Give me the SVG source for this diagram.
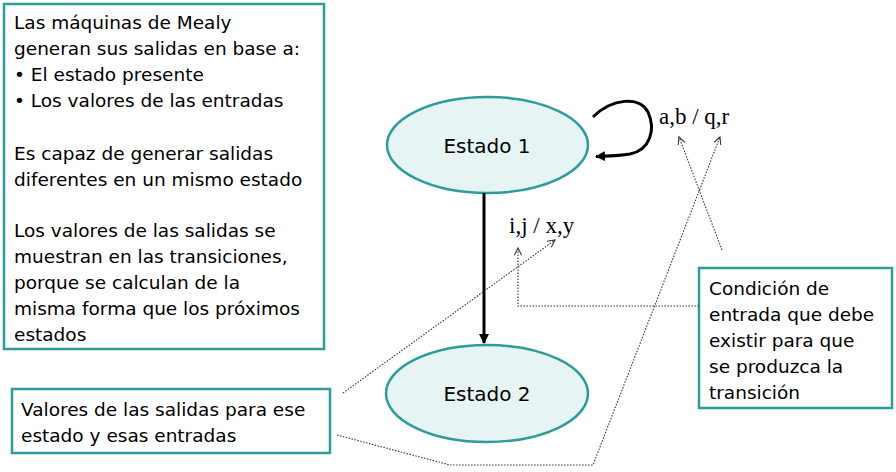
<svg xmlns="http://www.w3.org/2000/svg" width="896" height="472" viewBox="0 0 896 472">
<style>
.box{fill:#fff;stroke:#2e9c98;stroke-width:2.5}
.st{fill:#e6f4f4;stroke:#2e9c98;stroke-width:2.5}
.t{font-family:"DejaVu Sans",Verdana,sans-serif;font-size:18.5px;fill:#000}
.ts{font-family:"DejaVu Sans",Verdana,sans-serif;font-size:20px;fill:#000;text-anchor:middle}
.lbl{font-family:"Liberation Serif","Times New Roman",serif;font-size:23px;fill:#000}
.dot{fill:none;stroke:#333;stroke-width:1.1;stroke-dasharray:1.5 1.5}
.solid{fill:none;stroke:#000;stroke-width:3}
</style>
<defs>
<marker id="ah" viewBox="0 0 10 10" refX="9" refY="5" markerWidth="10" markerHeight="10" markerUnits="userSpaceOnUse" orient="auto">
<path d="M0,0 L10,5 L0,10 Z" fill="#000"/>
</marker>
<marker id="oh" viewBox="0 0 10 10" refX="9" refY="5" markerWidth="9" markerHeight="9" markerUnits="userSpaceOnUse" orient="auto">
<path d="M1,1 L9,5 L1,9" fill="none" stroke="#333" stroke-width="1.2"/>
</marker>
</defs>
<g id="info">
<rect class="box" x="4" y="4" width="320" height="345"/>
<text class="t" x="14" y="29">Las máquinas de Mealy</text>
<text class="t" x="14" y="55">generan sus salidas en base a:</text>
<text class="t" x="14" y="81">• El estado presente</text>
<text class="t" x="14" y="107">• Los valores de las entradas</text>
<text class="t" x="14" y="160">Es capaz de generar salidas</text>
<text class="t" x="14" y="186">diferentes en un mismo estado</text>
<text class="t" x="14" y="237">Los valores de las salidas se</text>
<text class="t" x="14" y="263">muestran en las transiciones,</text>
<text class="t" x="14" y="289">porque se calculan de la</text>
<text class="t" x="14" y="315">misma forma que los próximos</text>
<text class="t" x="14" y="341">estados</text>
</g>
<g id="estado1">
<ellipse class="st" cx="487.5" cy="145" rx="100.5" ry="48"/>
<text class="ts" x="487" y="153">Estado 1</text>
</g>
<g id="estado2">
<ellipse class="st" cx="487" cy="393.5" rx="101" ry="48.5"/>
<text class="ts" x="487" y="401">Estado 2</text>
</g>
<g id="condicion">
<rect class="box" x="699" y="268" width="193" height="140"/>
<text class="t" x="709" y="295">Condición de</text>
<text class="t" x="709" y="321">entrada que debe</text>
<text class="t" x="709" y="347">existir para que</text>
<text class="t" x="709" y="373">se produzca la</text>
<text class="t" x="709" y="399">transición</text>
</g>
<g id="valores">
<rect class="box" x="12" y="389" width="318" height="64"/>
<text class="t" x="21" y="416">Valores de las salidas para ese</text>
<text class="t" x="21" y="442">estado y esas entradas</text>
</g>
<g id="labels">
<text class="lbl" x="659" y="124">a,b / q,r</text>
<text class="lbl" x="509" y="233">i,j / x,y</text>
</g>
<g id="connectors">
<path class="solid" d="M484,193 L484,343" marker-end="url(#ah)"/>
<path class="solid" d="M593,117 C612,98 640,96 648,112 C656,130 650,150 630,154 C618,156 608,156 596,156.5" marker-end="url(#ah)"/>
<path class="dot" d="M343,393 L555,240" marker-end="url(#oh)"/>
<path class="dot" d="M337,435 L450,465 L593,465 L720,137" marker-end="url(#oh)"/>
<path class="dot" d="M722,250 L679,137" marker-end="url(#oh)"/>
<path class="dot" d="M699,306 L518,306 L518,248" marker-end="url(#oh)"/>
</g>
</svg>
